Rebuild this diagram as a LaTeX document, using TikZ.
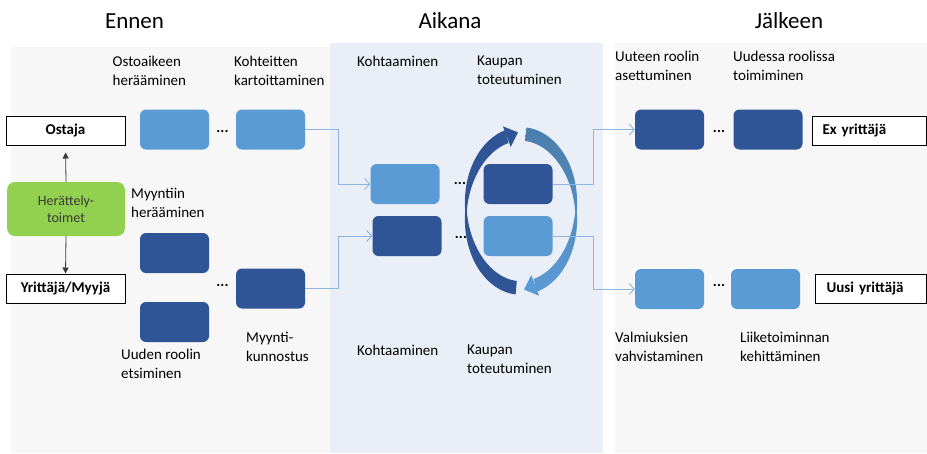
\documentclass[tikz,border=0pt]{standalone}
\usepackage{fontspec}
\setmainfont{Carlito}
\usetikzlibrary{arrows.meta}
\definecolor{lightb}{HTML}{5B9BD5}
\definecolor{darkb}{HTML}{2F5597}
\definecolor{steelb}{HTML}{4A7EAB}
\definecolor{greenb}{HTML}{92D050}
\definecolor{connb}{HTML}{8DB4E2}
\definecolor{panelgray}{HTML}{F7F7F7}
\definecolor{panelblue}{HTML}{E9EEF7}
\definecolor{textgray}{HTML}{3A3A3A}
\tikzset{
  blk/.style={rounded corners=6pt, minimum width=69pt, minimum height=40pt, inner sep=0pt},
  lightblk/.style={blk, fill=lightb},
  darkblk/.style={blk, fill=darkb},
  lbl/.style={anchor=north west, align=left, inner sep=0pt, font=\fontsize{15}{18.5}\selectfont},
  role/.style={draw=black, line width=1pt, fill=white, font=\bfseries\fontsize{15}{18}\selectfont, inner sep=0pt, minimum height=29pt},
  conn/.style={draw=connb, line width=0.9pt, -{Straight Barb[length=5pt,width=11pt]}},
  harrow/.style={draw=textgray, line width=0.8pt, -{Triangle[length=6pt,width=6pt]}},
  dots/.style={font=\bfseries\fontsize{15}{18}\selectfont, inner sep=0pt},
  ttl/.style={font=\fontsize{23}{28}\selectfont, anchor=base}
}
\begin{document}
\begin{tikzpicture}[x=1pt,y=-1pt]
\useasboundingbox (0,0) rectangle (927,453);
% panels
\fill[panelgray] (11,47) rectangle (330,453);
\fill[panelblue] (330,43) rectangle (603,453);
\fill[panelgray] (615,43) rectangle (927,453);
% titles
\node[ttl] (t1) at (134.5,28) {Ennen};
\node[ttl] (t2) at (450,28) {Aikana};
\node[ttl] (t3) at (789,28) {Jälkeen};
% left role boxes
\node[role, minimum width=119pt] (ostaja) at (65.5,130.5) {Ostaja};
\node[fill=greenb, rounded corners=8pt, minimum width=118pt, minimum height=54pt, inner sep=0pt, align=center, font=\fontsize{14}{17}\selectfont, text=textgray] (herat) at (66,209) {Herättely-\\toimet};
\node[role, minimum width=119pt] (yrit) at (65.5,288.5) {Yrittäjä/Myyjä};
\draw[harrow, shorten >=7pt] (herat.north) -- (ostaja.south);
\draw[harrow] (herat.south) -- (yrit.north);
% Ennen boxes
\node[lightblk] (A) at (174.5,129.5) {};
\node[lightblk] (B) at (270.5,129.5) {};
\node[darkblk] (C) at (174.5,253) {};
\node[darkblk] (D) at (174.5,322) {};
\node[darkblk] (E) at (270.5,288.5) {};
\node[dots] (d1) at (222.5,131) {...};
\node[dots] (d2) at (222.5,285) {...};
% Ennen labels
\node[lbl] (l1) at (112.5,56) {Ostoaikeen\\herääminen};
\node[lbl] (l2) at (234,56) {Kohteitten\\kartoittaminen};
\node[lbl] (l3) at (131,188) {Myyntiin\\herääminen};
\node[lbl] (l4) at (121,349) {Uuden roolin\\etsiminen};
\node[lbl] (l5) at (246,332) {Myynti-\\kunnostus};
% Aikana boxes
\node[lightblk] (F) at (405,184) {};
\node[darkblk] (G) at (407,236) {};
\node[darkblk] (H) at (518,184) {};
\node[lightblk] (I) at (518,236) {};
\node[dots] (d3) at (460,183) {...};
\node[dots] (d4) at (461,237) {...};
\node[lbl] (l6) at (357,56) {Kohtaaminen};
\node[lbl] (l7) at (477,56) {Kaupan\\toteutuminen};
\node[lbl] (l8) at (357,345) {Kohtaaminen};
\node[lbl] (l9) at (467,345) {Kaupan\\toteutuminen};
% circular arrows
\fill[darkb] plot[domain=265:105, samples=60] ({521+(55+0.8+6*abs(sin(\x)))*cos(\x)}, {211-(77+0.8+6*abs(sin(\x)))*sin(\x)})
  -- plot[domain=105:265, samples=60] ({521+(55-0.8-6*abs(sin(\x)))*cos(\x)}, {211-(77-0.8-6*abs(sin(\x)))*sin(\x)}) -- cycle;
\fill[darkb] (510.7,146.9) -- (518,132.4) -- (502.9,126.3) -- cycle;
\shade[top color=steelb, bottom color=lightb] plot[domain=85:-75, samples=60] ({521+(55+0.8+6*abs(sin(\x)))*cos(\x)}, {211-(77+0.8+6*abs(sin(\x)))*sin(\x)})
  -- plot[domain=-75:85, samples=60] ({521+(55-0.8-6*abs(sin(\x)))*cos(\x)}, {211-(77-0.8-6*abs(sin(\x)))*sin(\x)}) -- cycle;
\fill[lightb] (539.1,295.7) -- (524.0,289.6) -- (531.3,275.1) -- cycle;
% Jälkeen boxes
\node[darkblk] (J) at (669.5,129.5) {};
\node[darkblk] (L) at (768,129.5) {};
\node[lightblk] (K) at (669.5,289) {};
\node[lightblk] (M) at (765.5,289) {};
\node[dots] (d5) at (719,131) {...};
\node[dots] (d6) at (719,285) {...};
\node[role, anchor=west, text width=94pt, inner xsep=10pt, align=left] (ex) at (812,130.5) {Ex yrittäjä};
\node[role, anchor=west, text width=89pt, inner xsep=11pt, align=left] (uusi) at (815,288.5) {Uusi yrittäjä};
\node[lbl] (l10) at (615,51) {Uuteen roolin\\asettuminen};
\node[lbl] (l11) at (733,51) {Uudessa roolissa\\toimiminen};
\node[lbl] (l12) at (615,332) {Valmiuksien\\vahvistaminen};
\node[lbl] (l13) at (740,332) {Liiketoiminnan\\kehittäminen};
% connectors
\draw[conn] (B.east) -- ++(33,0) |- (F.west);
\draw[conn] (E.east) -- ++(33,0) |- (G.west);
\draw[conn] (H.east) -- ++(41,0) |- (J.west);
\draw[conn] (I.east) -- ++(41,0) |- (K.west);
\end{tikzpicture}
\end{document}
